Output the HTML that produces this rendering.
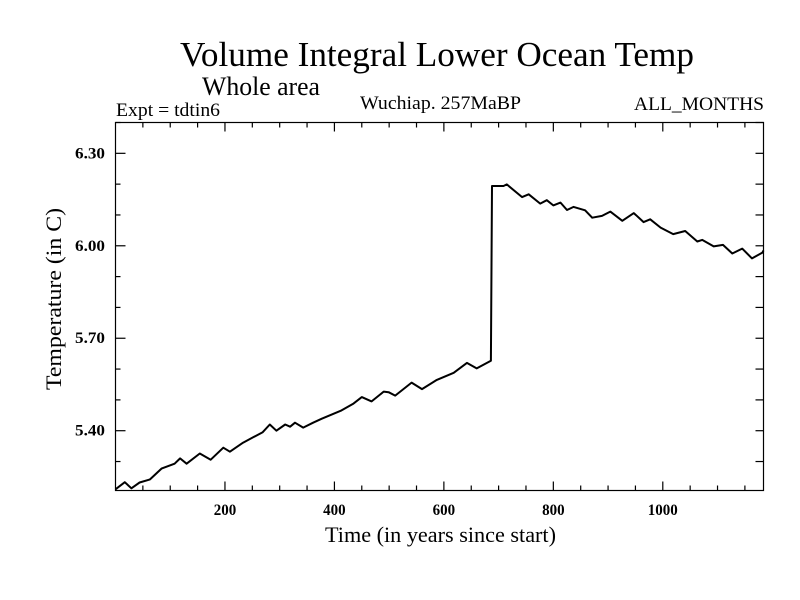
<!DOCTYPE html>
<html><head><meta charset="utf-8"><style>
body{margin:0;background:#fff;}
svg{display:block;font-family:"Liberation Serif",serif;}
</style></head><body>
<svg id="chart" width="800" height="600" viewBox="0 0 800 600">
<rect width="800" height="600" fill="#fff"/>
<text x="180" y="66" font-size="35" textLength="514" lengthAdjust="spacingAndGlyphs">Volume Integral Lower Ocean Temp</text>
<text x="202" y="95" font-size="26" textLength="118" lengthAdjust="spacingAndGlyphs">Whole area</text>
<text x="116" y="116" font-size="19" textLength="104" lengthAdjust="spacingAndGlyphs">Expt = tdtin6</text>
<text x="360" y="109" font-size="19" textLength="161" lengthAdjust="spacingAndGlyphs">Wuchiap. 257MaBP</text>
<text x="634" y="110" font-size="19" textLength="130" lengthAdjust="spacingAndGlyphs">ALL_MONTHS</text>
<rect x="115.5" y="122.5" width="648" height="368" fill="none" stroke="#000" stroke-width="1.2"/>
<g id="ticks"></g>
<path id="series" fill="none" stroke="#000" stroke-width="2" stroke-linejoin="round"/>
<text x="325" y="542" font-size="22" textLength="231" lengthAdjust="spacingAndGlyphs">Time (in years since start)</text>
<text x="0" y="0" font-size="22" text-anchor="middle" textLength="182" lengthAdjust="spacingAndGlyphs" transform="translate(61,299) rotate(-90)">Temperature (in C)</text>
</svg>
<script>
const years=[0,17,29,44,63,84,108,118,130,154,174,197,209,233,269,282,294,310,319,328,343,361,377,413,434,450,468,490,499,511,541,560,587,618,642,660,686,688,709,715,743,755,776,788,800,813,825,837,858,871,889,904,926,947,965,977,996,1019,1041,1063,1072,1093,1110,1127,1145,1163,1182,1184];
const temps=[5.21,5.233,5.213,5.232,5.242,5.277,5.293,5.31,5.293,5.326,5.306,5.345,5.332,5.361,5.395,5.42,5.40,5.42,5.413,5.426,5.41,5.426,5.439,5.466,5.487,5.509,5.495,5.527,5.525,5.514,5.556,5.535,5.565,5.588,5.62,5.602,5.627,6.194,6.194,6.199,6.158,6.167,6.137,6.148,6.131,6.14,6.116,6.126,6.115,6.091,6.097,6.111,6.081,6.106,6.077,6.086,6.059,6.038,6.048,6.014,6.019,5.998,6.003,5.975,5.991,5.959,5.978,5.985];
const xTickLabels=[200,400,600,800,1000];
const yTickLabels=[5.40,5.70,6.00,6.30];
const xMin=0,xMax=1184,yMin=5.206,yMax=6.40;
const L=115.5,R=763.5,T=122.5,B=490.5;
const sx=v=>L+(v-xMin)/(xMax-xMin)*(R-L);
const sy=v=>B-(v-yMin)/(yMax-yMin)*(B-T);
const NS="http://www.w3.org/2000/svg";
const g=document.getElementById('ticks');
function line(x1,y1,x2,y2,name){const l=document.createElementNS(NS,'line');
l.setAttribute('x1',x1);l.setAttribute('y1',y1);l.setAttribute('x2',x2);l.setAttribute('y2',y2);
l.setAttribute('stroke','#000');l.setAttribute('stroke-width','1.2');


g.appendChild(l);}
function text(x,y,s,anchor,w,name){const t=document.createElementNS(NS,'text');
t.setAttribute('x',x);t.setAttribute('y',y);t.setAttribute('font-size','16');t.setAttribute('font-weight','bold');t.setAttribute('text-anchor',anchor);
t.setAttribute('textLength',w);t.setAttribute('lengthAdjust','spacingAndGlyphs');t.textContent=s;


g.appendChild(t);}
for(let v=50;v<xMax;v+=50){const x=sx(v);const major=v%200===0;const len=major?9:5;
line(x,B,x,B-len,'x-tick');line(x,T,x,T+len,'x-tick-top');}
xTickLabels.forEach(v=>text(sx(v),515,String(v),'middle',String(v).length*7.5,'x-tick-label'));
for(let k=0;k<=11;k++){const v=5.30+k*0.1;if(v>yMax)break;const y=sy(v);
const major=Math.abs(((v-5.4)/0.3)-Math.round((v-5.4)/0.3))<0.01;const len=major?10:5;
line(L,y,L+len,y,'y-tick');line(R,y,R-8,y,'y-tick-right');}
yTickLabels.forEach(v=>text(105,sy(v)+5,v.toFixed(2),'end',30,'y-tick-label'));
let d='';years.forEach((yr,i)=>{d+=(i?'L':'M')+sx(yr).toFixed(1)+','+sy(temps[i]).toFixed(1);});
document.getElementById('series').setAttribute('d',d);
</script>
</body></html>
